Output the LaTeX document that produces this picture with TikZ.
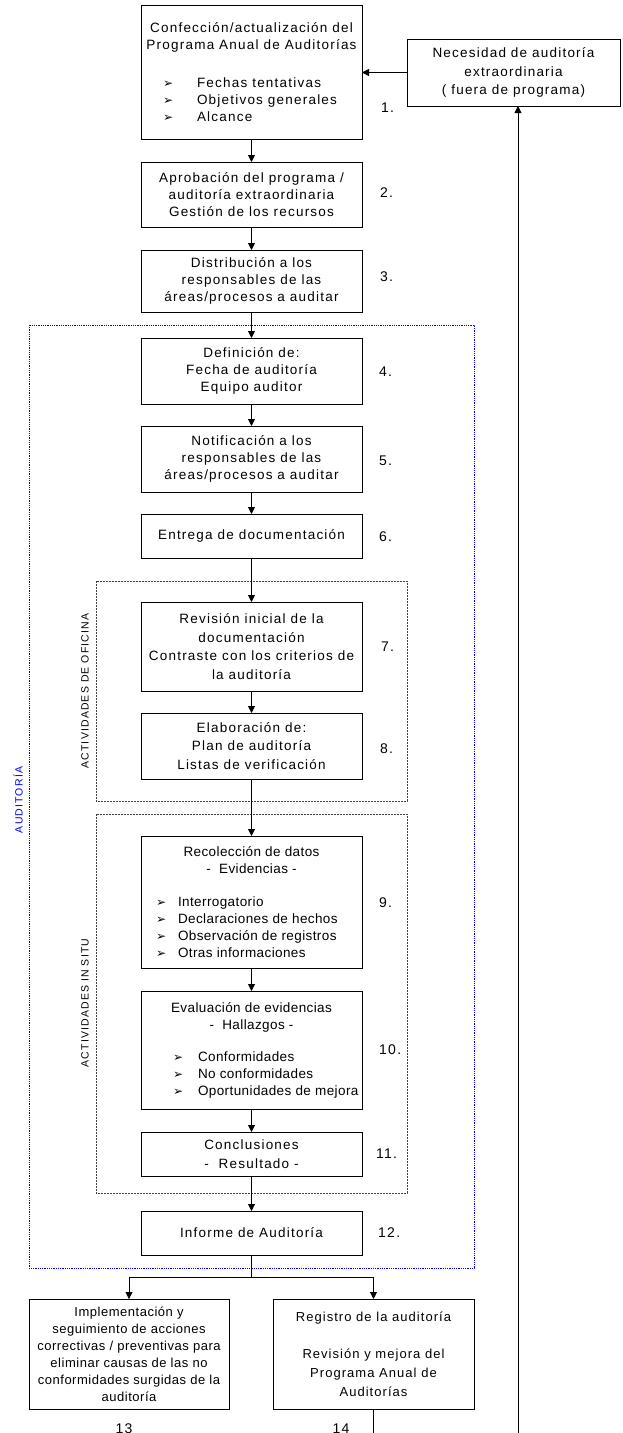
\documentclass[tikz,border=0pt]{standalone}
\usepackage{fontspec}
\setmainfont{Liberation Sans}[LetterSpace=9]
\newfontfamily\dejavu{DejaVu Sans}
\usepackage{tikz,tkz-graph}
\usetikzlibrary{arrows.meta}
\tikzstyle{mainBox}=[shape = rectangle, draw, line width = 1pt, inner sep = 0pt, align = center, minimum width = 221pt, font = \fontsize{13.5}{17}\selectfont]
\tikzstyle{looseBox}=[mainBox, font = \fontsize{13.5}{18.7}\selectfont\addfontfeature{LetterSpace=9}]
\tikzstyle{tightBox}=[mainBox, font = \fontsize{13.5}{17}\selectfont\addfontfeature{LetterSpace=3}]
\tikzstyle{endBox}=[mainBox, minimum width = 200pt, minimum height = 110pt]
\tikzstyle{groupBox}=[draw = black!75, line width = 0.8pt, densely dashed, dash pattern = on 2pt off 1pt]
\tikzstyle{auditBox}=[draw = blue, line width = 0.8pt, densely dotted]
\tikzstyle{sideLabel}=[rotate = 90, inner sep = 0pt, font = \fontsize{10.5}{12}\selectfont\addfontfeature{LetterSpace=11}]
\tikzstyle{numLabel}=[anchor = west, inner sep = 0pt, font = \fontsize{14}{16}\selectfont]
\newcommand{\flecha}[3]{\makebox[221pt][l]{\hspace*{#1}\makebox[#2][l]{\dejavu\fontsize{12}{12}\selectfont ➢}#3}}

\begin{document}
\begin{tikzpicture}[x = 1pt, y = -1pt]
\tikzstyle{VertexStyle} = []
\tikzstyle{EdgeStyle} = [-{Triangle[length = 7pt, width = 7pt]}, line width = 0.9pt]
\useasboundingbox (0,0) rectangle (623,1433);
\clip (0,0) rectangle (623,1433);
% grupos
\draw[auditBox] (29,325) rectangle (474,1268);
\draw[groupBox] (96,581) rectangle (407,801);
\draw[groupBox] (96,814) rectangle (407,1193);
\node[sideLabel, text = blue] (s0) at (18,800) {AUDITORÍA};
\node[sideLabel] (s1) at (85,691) {ACTIVIDADES DE OFICINA};
\node[sideLabel] (s2) at (85,1003) {ACTIVIDADES IN SITU};
% cajas
\Vertex[style = {looseBox, minimum width = 213pt, minimum height = 67pt}, x = 513.5, y = 72.5, L = {Necesidad de auditoría\\extraordinaria\\( fuera de programa)}]{v0}
\Vertex[style = {mainBox, minimum height = 134pt}, x = 251.5, y = 72.5, L = {Confección/actualización del\\Programa Anual de Auditorías\\[21pt]\flecha{22pt}{34pt}{Fechas tentativas}\\\flecha{22pt}{34pt}{Objetivos generales}\\\flecha{22pt}{34pt}{Alcance}}]{v1}
\Vertex[style = {mainBox, minimum height = 65pt}, x = 251.5, y = 194.5, L = {Aprobación del programa /\\auditoría extraordinaria\\Gestión de los recursos}]{v2}
\Vertex[style = {mainBox, minimum height = 62pt}, x = 251.5, y = 281, L = {Distribución a los\\responsables de las\\áreas/procesos a auditar}]{v3}
\Vertex[style = {mainBox, minimum height = 66pt}, x = 251.5, y = 371, L = {Definición de:\\Fecha de auditoría\\Equipo auditor}]{v4}
\Vertex[style = {mainBox, minimum height = 66pt}, x = 251.5, y = 459, L = {Notificación a los\\responsables de las\\áreas/procesos a auditar}]{v5}
\Vertex[style = {mainBox, minimum height = 44pt}, x = 251.5, y = 536, L = {Entrega de documentación}]{v6}
\Vertex[style = {looseBox, minimum height = 89pt}, x = 251.5, y = 646.5, L = {Revisión inicial de la\\documentación\\Contraste con los criterios de\\la auditoría}]{v7}
\Vertex[style = {looseBox, minimum height = 66pt}, x = 251.5, y = 746, L = {Elaboración de:\\Plan de auditoría\\Listas de verificación}]{v8}
\Vertex[style = {tightBox, minimum height = 132pt}, x = 251.5, y = 902, L = {Recolección de datos\\-\ \ Evidencias -\\[16pt]\flecha{15pt}{22pt}{Interrogatorio}\\\flecha{15pt}{22pt}{Declaraciones de hechos}\\\flecha{15pt}{22pt}{Observación de registros}\\\flecha{15pt}{22pt}{Otras informaciones}}]{v9}
\Vertex[style = {tightBox, minimum height = 118pt}, x = 251.5, y = 1050, L = {Evaluación de evidencias\\-\ \ Hallazgos -\\[15pt]\flecha{32pt}{25pt}{Conformidades}\\\flecha{32pt}{25pt}{No conformidades}\\\flecha{32pt}{25pt}{Oportunidades de mejora}}]{v10}
\Vertex[style = {looseBox, minimum height = 44pt}, x = 251.5, y = 1154, L = {Conclusiones\\-\ \ Resultado -}]{v11}
\Vertex[style = {mainBox, minimum height = 44pt}, x = 251.5, y = 1233, L = {Informe de Auditoría}]{v12}
\Vertex[style = {endBox, font = \fontsize{13}{17}\selectfont\addfontfeature{LetterSpace=4}}, x = 129, y = 1354, L = {Implementación y\\seguimiento de acciones\\correctivas / preventivas para\\eliminar causas de las no\\conformidades surgidas de la\\auditoría}]{v13}
\Vertex[style = {endBox, minimum width = 201pt, font = \fontsize{13}{19}\selectfont\addfontfeature{LetterSpace=8}}, x = 373.5, y = 1354, L = {Registro de la auditoría\\[18pt]Revisión y mejora del\\Programa Anual de\\Auditorías}]{v14}
% numeros
\node[numLabel] (n1) at (381,108) {1.};
\node[numLabel] (n2) at (380,193) {2.};
\node[numLabel] (n3) at (380,277) {3.};
\node[numLabel] (n4) at (379,372) {4.};
\node[numLabel] (n5) at (379,461) {5.};
\node[numLabel] (n6) at (379,537) {6.};
\node[numLabel] (n7) at (381,647) {7.};
\node[numLabel] (n8) at (380,749) {8.};
\node[numLabel] (n9) at (379,903) {9.};
\node[numLabel] (n10) at (379,1050) {10.};
\node[numLabel] (n11) at (376,1154) {11.};
\node[numLabel] (n12) at (378,1233) {12.};
\node[numLabel, anchor = center] (n13) at (124,1429) {13};
\node[numLabel, anchor = center] (n14) at (341,1429) {14};
% conexiones
\Edge(v0)(v1)
\Edge(v1)(v2)
\Edge(v2)(v3)
\Edge(v3)(v4)
\Edge(v4)(v5)
\Edge(v5)(v6)
\Edge(v6)(v7)
\Edge(v7)(v8)
\Edge(v8)(v9)
\Edge(v9)(v10)
\Edge(v10)(v11)
\Edge(v11)(v12)
\draw[EdgeStyle] (v12.south) -- ++(0,22) -| (v13.north);
\draw[EdgeStyle] (v12.south) -- ++(0,22) -| (v14.north);
\coordinate (c1) at (373.5,1440);
\coordinate (c2) at (518,1440);
\draw[line width = 0.9pt] (v14.south) -- (c1);
\draw[EdgeStyle] (c2) -- (c2 |- v0.south);
\end{tikzpicture}
\end{document}
